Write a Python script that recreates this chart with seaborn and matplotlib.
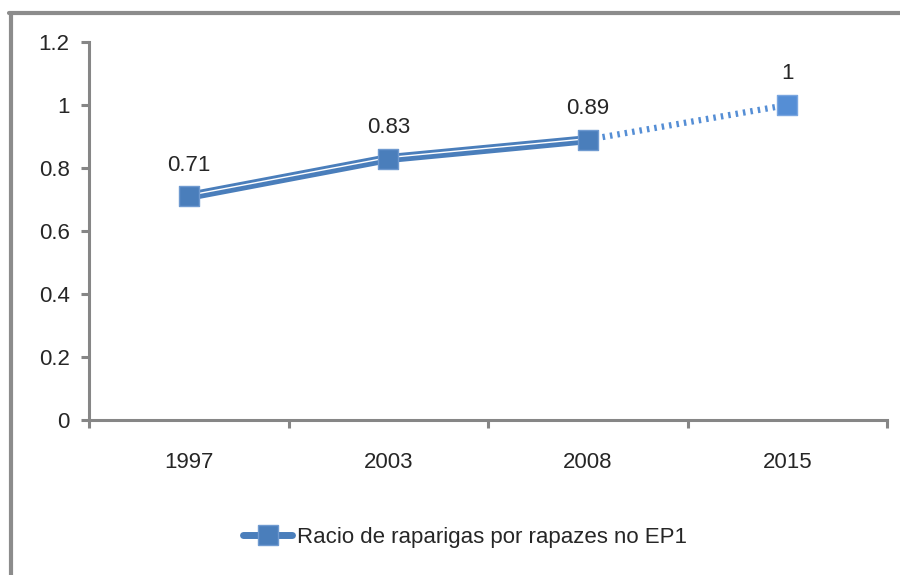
import pandas as pd
import seaborn as sns
import matplotlib.pyplot as plt
import matplotlib.patheffects as pe
from matplotlib import font_manager
from matplotlib.lines import Line2D

years = ["1997", "2003", "2008", "2015"]
ratio = [0.71, 0.83, 0.89, 1.0]
labels = ["0.71", "0.83", "0.89", "1"]
legend_label = "Racio de raparigas por rapazes no EP1"

df = pd.DataFrame({"year": years, "ratio": ratio, "pos": range(len(years))})

sns.set_style("white")
names = {f.name for f in font_manager.fontManager.ttflist}
if "Liberation Sans Narrow" in names:
    plt.rcParams["font.family"] = ["Liberation Sans Narrow", "DejaVu Sans"]
    fs = 18
else:
    plt.rcParams["font.family"] = ["Liberation Sans", "DejaVu Sans"]
    fs = 16

blue = "#4a7ebb"
blue2 = "#558ed5"
grey = "#868686"

fig = plt.figure(figsize=(9, 5.75), dpi=100)
ax = fig.add_axes([89 / 900, 1 - 420 / 575, (887 - 89) / 900, (420 - 42) / 575])

# observed values: thick blue line with a thin white stripe
solid = df.iloc[:3]
sns.lineplot(data=solid, x="pos", y="ratio", ax=ax, color=blue, lw=6.5,
             path_effects=[pe.Normal(),
                           pe.Stroke(linewidth=1.0, foreground="white", offset=(0, 0.7))])
# target: dotted
sns.lineplot(data=df.iloc[2:], x="pos", y="ratio", ax=ax, color=blue2, lw=4.5,
             linestyle=(0, (0.4, 0.8)))
sns.scatterplot(data=solid, x="pos", y="ratio", ax=ax, marker="s", s=200,
                color=blue, edgecolor="#6f9ad0", linewidth=1, zorder=5)
sns.scatterplot(data=df.iloc[3:], x="pos", y="ratio", ax=ax, marker="s", s=200,
                color=blue2, edgecolor="#7aa6e0", linewidth=1, zorder=5)

for x, y, t in zip(df["pos"], df["ratio"], labels):
    ax.annotate(t, (x, y), xytext=(0, 15), textcoords="offset points",
                ha="center", va="bottom", fontsize=fs)

ax.set_xlim(-0.5, len(years) - 0.5)
ax.set_ylim(0, 1.2)
ax.set_xticks(df["pos"])
ax.set_xticklabels(years, fontsize=fs)
ax.set_xticks([i - 0.5 for i in range(len(years) + 1)], minor=True)
ax.set_yticks([0, 0.2, 0.4, 0.6, 0.8, 1.0, 1.2])
ax.set_yticklabels(["0", "0.2", "0.4", "0.6", "0.8", "1", "1.2"], fontsize=fs)
ax.tick_params(axis="x", which="major", length=0, pad=23)
ax.tick_params(axis="x", which="minor", length=6, width=2.2, color=grey, bottom=True)
ax.tick_params(axis="y", length=6, width=2.2, color=grey, pad=8, left=True)
ax.set_xlabel("")
ax.set_ylabel("")
ax.spines["top"].set_visible(False)
ax.spines["right"].set_visible(False)
for s in ["left", "bottom"]:
    ax.spines[s].set_color(grey)
    ax.spines[s].set_linewidth(2.2)

handle = Line2D([], [], color=blue, lw=5, marker="s", markersize=14,
                markerfacecolor=blue, markeredgecolor="#6f9ad0")
fig.legend([handle], [legend_label], loc="center", bbox_to_anchor=(465 / 900, 1 - 537 / 575),
           frameon=False, fontsize=fs, handlelength=2.2, handletextpad=0.2)

# outer frame (top and left)
fig.add_artist(Line2D([9 / 900, 1], [1 - 13 / 575] * 2, color="#8c8c8c", lw=3))
fig.add_artist(Line2D([11 / 900] * 2, [0, 1 - 13 / 575], color="#8c8c8c", lw=3))

plt.savefig("out.png", dpi=100)
